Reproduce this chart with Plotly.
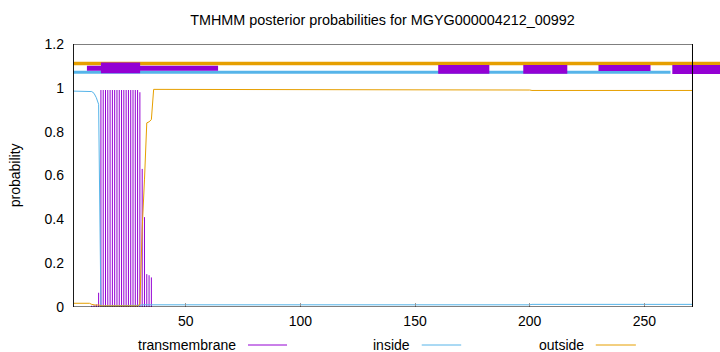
import plotly.graph_objects as go

# ---------------- data ----------------
residues = list(range(1, 272))

transmembrane = ([0.0] * 8 + [0.006, 0.008, 0.012, 0.065] + [0.99] * 17 +
                 [0.98, 0.63, 0.41, 0.15, 0.145, 0.135] + [0.0] * 236)
inside = ([0.985] * 8 + [0.983, 0.975, 0.955, 0.925] + [0.005] * 17 +
          [0.008, 0.01, 0.01, 0.01, 0.01, 0.01] + [0.007] * 73 + [0.010] * 92 + [0.012] * 71)
outside = ([0.017] * 8 + [0.012, 0.010, 0.008, 0.010] + [0.005] * 17 +
           [0.012, 0.36, 0.58, 0.84, 0.845, 0.855] + [0.993] * 73 + [0.990] * 92 + [0.988] * 71)

# top annotation bars (as drawn in the reference)
top_outside_x = [0.83, 283.0]
top_outside_y = 1.111
top_inside_x = [0.83, 261.4]
top_inside_y = 1.071
top_tm_x0 = [6.9, 13.0, 160.1, 197.2, 230.0, 262.2]
top_tm_x1 = [64.1, 30.1, 182.4, 216.4, 252.7, 283.0]
top_tm_y0 = [1.078, 1.066, 1.064, 1.064, 1.077, 1.063]
top_tm_y1 = [1.101, 1.116, 1.104, 1.104, 1.104, 1.104]

x_ticks = [50, 100, 150, 200, 250]
y_ticks = [0, 0.2, 0.4, 0.6, 0.8, 1, 1.2]
y_tick_text = ["0", "0.2", "0.4", "0.6", "0.8", "1", "1.2"]
seq_len = 271

title = "TMHMM posterior probabilities for MGYG000004212_00992"

C_TM = "#9400d3"
C_IN = "#56b4e9"
C_OUT = "#e69f00"
FONT = "Liberation Sans, Arial, sans-serif"

# ---------------- figure ----------------
imp_x, imp_y = [], []
for r, p in zip(residues, transmembrane):
    imp_x += [r, r, None]
    imp_y += [0, p, None]

fig = go.Figure()
fig.add_trace(go.Scatter(x=imp_x, y=imp_y, mode="lines",
                         line=dict(color=C_TM, width=1), showlegend=False, hoverinfo="skip"))
fig.add_trace(go.Scatter(x=residues, y=inside, mode="lines",
                         line=dict(color=C_IN, width=1), showlegend=False))
fig.add_trace(go.Scatter(x=residues, y=outside, mode="lines",
                         line=dict(color=C_OUT, width=1), showlegend=False))

shapes = []
shapes.append(dict(type="line", xref="x", yref="y", x0=top_outside_x[0], x1=top_outside_x[1],
                   y0=top_outside_y, y1=top_outside_y, line=dict(color=C_OUT, width=3.5), layer="above"))
shapes.append(dict(type="line", xref="x", yref="y", x0=top_inside_x[0], x1=top_inside_x[1],
                   y0=top_inside_y, y1=top_inside_y, line=dict(color=C_IN, width=3), layer="above"))
for a, b, c, d in zip(top_tm_x0, top_tm_x1, top_tm_y0, top_tm_y1):
    shapes.append(dict(type="rect", xref="x", yref="y", x0=a, x1=b, y0=c, y1=d,
                       fillcolor=C_TM, line=dict(width=0), layer="above"))
# frame
shapes.append(dict(type="rect", xref="x", yref="y", x0=1, x1=seq_len, y0=0, y1=1.2,
                   line=dict(color="black", width=1), fillcolor="rgba(0,0,0,0)", layer="above"))

# legend samples
legend_items = [("transmembrane", C_TM, 0.255, 0.2705, 0.3308),
                ("inside", C_IN, 0.524, 0.539, 0.600),
                ("outside", C_OUT, 0.793, 0.808, 0.870)]
annotations = []
ly = -0.1445
for name, col, tx, l0, l1 in legend_items:
    annotations.append(dict(text=name, xref="paper", yref="paper", x=tx, y=ly,
                            xanchor="right", yanchor="middle", showarrow=False,
                            font=dict(family=FONT, size=14, color="black")))
    shapes.append(dict(type="line", xref="paper", yref="paper", x0=l0, x1=l1, y0=ly, y1=ly,
                       line=dict(color=col, width=1)))

annotations.append(dict(text="probability", xref="paper", yref="paper", x=-0.09, y=0.5,
                        textangle=-90, xanchor="center", yanchor="middle", showarrow=False,
                        font=dict(family=FONT, size=14, color="black")))

fig.update_layout(
    width=720, height=352,
    margin=dict(l=73, r=0, t=44, b=45, pad=0),
    paper_bgcolor="white", plot_bgcolor="white",
    title=dict(text=title, x=382.5 / 720, xref="container", xanchor="center",
               y=1 - 20 / 352, yref="container", yanchor="middle",
               font=dict(family=FONT, size=14.4, color="black")),
    font=dict(family=FONT, size=14, color="black"),
    shapes=shapes, annotations=annotations,
    showlegend=False,
)
fig.update_xaxes(range=[0.826, 283.0], tickvals=x_ticks, ticks="inside", ticklen=4,
                 tickcolor="#999999", showgrid=False, zeroline=False, showline=False,
                 tickfont=dict(family=FONT, size=14), ticklabelstandoff=4)
fig.update_yaxes(range=[0, 1.2], tickvals=y_ticks, ticktext=y_tick_text, ticks="",
                 showgrid=False, zeroline=False, showline=False,
                 tickfont=dict(family=FONT, size=14), ticklabelstandoff=8)

fig.write_html("out.html")
